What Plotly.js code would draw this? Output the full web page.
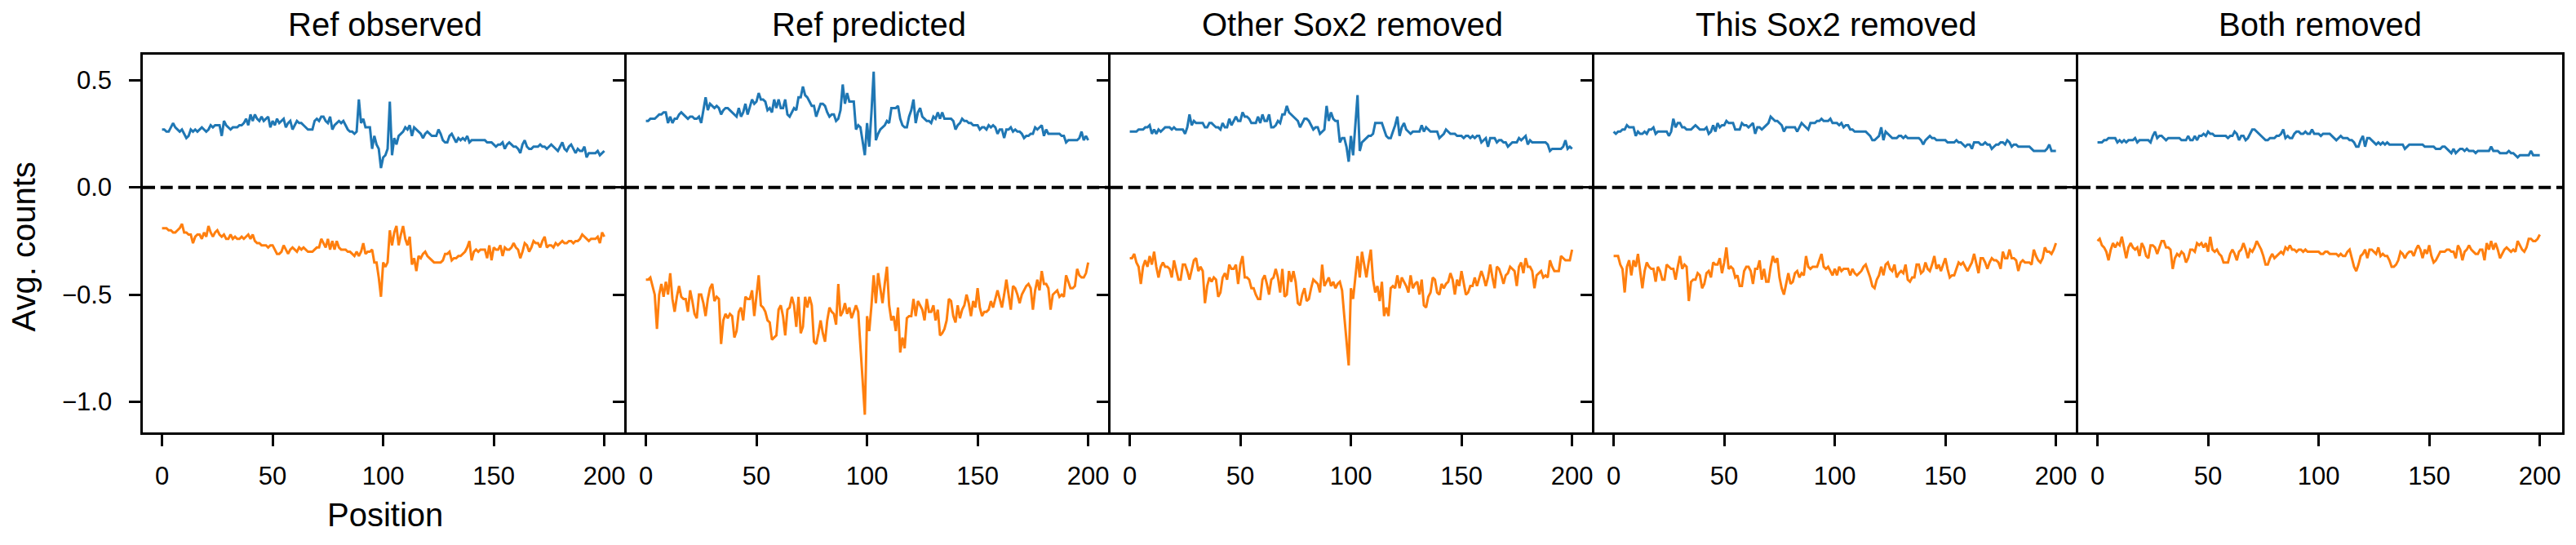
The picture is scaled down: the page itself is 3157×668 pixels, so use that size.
<!DOCTYPE html>
<html><head><meta charset="utf-8">
<script src="https://cdn.plot.ly/plotly-3.0.1.min.js"></script>
<style>html,body{margin:0;padding:0;background:#fff}</style>
</head><body><div id="chart" style="width:3157px;height:668px"></div>
<script>
const panelTitles = ['Ref observed', 'Ref predicted', 'Other Sox2 removed', 'This Sox2 removed', 'Both removed'];
const xAxisTitle = 'Position';
const yAxisTitle = 'Avg. counts';
const xTickVals = [0, 50, 100, 150, 200];
const xTickText = ['0', '50', '100', '150', '200'];
const yTickVals = [-1.0, -0.5, 0.0, 0.5];
const yTickText = ['\u22121.0', '\u22120.5', '0.0', '0.5'];

const refObservedPos = [
0.27,0.27,0.26,0.26,0.28,0.30,0.28,0.27,0.26,0.27,
0.25,0.23,0.24,0.27,0.26,0.27,0.26,0.27,0.28,0.27,
0.26,0.27,0.29,0.28,0.29,0.29,0.29,0.24,0.31,0.29,
0.28,0.27,0.28,0.28,0.28,0.29,0.29,0.30,0.32,0.29,
0.34,0.31,0.34,0.32,0.31,0.33,0.31,0.32,0.33,0.28,
0.31,0.29,0.32,0.30,0.31,0.32,0.28,0.30,0.31,0.27,
0.29,0.31,0.30,0.30,0.29,0.28,0.27,0.27,0.27,0.31,
0.32,0.31,0.33,0.33,0.31,0.30,0.33,0.27,0.29,0.30,
0.31,0.30,0.31,0.29,0.27,0.26,0.26,0.25,0.26,0.41,
0.30,0.32,0.28,0.28,0.28,0.18,0.24,0.20,0.18,0.09,
0.14,0.15,0.18,0.40,0.15,0.23,0.20,0.24,0.25,0.26,
0.28,0.27,0.29,0.24,0.28,0.27,0.26,0.25,0.23,0.25,
0.26,0.25,0.24,0.24,0.24,0.27,0.25,0.22,0.21,0.21,
0.24,0.25,0.23,0.21,0.23,0.22,0.23,0.22,0.24,0.21,
0.22,0.22,0.22,0.22,0.22,0.22,0.22,0.21,0.21,0.21,
0.20,0.19,0.20,0.20,0.21,0.18,0.20,0.21,0.20,0.19,
0.19,0.18,0.16,0.20,0.22,0.19,0.18,0.18,0.19,0.19,
0.19,0.20,0.19,0.19,0.18,0.19,0.20,0.19,0.18,0.17,
0.19,0.21,0.18,0.17,0.19,0.20,0.18,0.16,0.18,0.17,
0.17,0.19,0.14,0.16,0.16,0.16,0.16,0.17,0.15,0.16,
0.17];
const refObservedNeg = [
-0.19,-0.19,-0.19,-0.20,-0.20,-0.21,-0.21,-0.20,-0.19,-0.17,
-0.21,-0.21,-0.22,-0.22,-0.26,-0.23,-0.22,-0.22,-0.24,-0.21,
-0.23,-0.18,-0.21,-0.23,-0.21,-0.20,-0.22,-0.23,-0.22,-0.24,
-0.24,-0.22,-0.24,-0.23,-0.24,-0.24,-0.23,-0.24,-0.23,-0.22,
-0.24,-0.22,-0.25,-0.26,-0.26,-0.27,-0.27,-0.27,-0.28,-0.27,
-0.27,-0.29,-0.31,-0.31,-0.30,-0.27,-0.29,-0.31,-0.29,-0.28,
-0.29,-0.30,-0.28,-0.29,-0.28,-0.29,-0.30,-0.30,-0.30,-0.29,
-0.28,-0.28,-0.24,-0.26,-0.28,-0.24,-0.29,-0.25,-0.29,-0.25,
-0.28,-0.29,-0.29,-0.29,-0.30,-0.30,-0.31,-0.32,-0.30,-0.32,
-0.30,-0.26,-0.31,-0.30,-0.30,-0.29,-0.35,-0.35,-0.42,-0.51,
-0.35,-0.37,-0.35,-0.20,-0.27,-0.21,-0.18,-0.27,-0.22,-0.18,
-0.24,-0.27,-0.23,-0.36,-0.33,-0.39,-0.32,-0.33,-0.31,-0.30,
-0.32,-0.33,-0.34,-0.35,-0.35,-0.35,-0.35,-0.34,-0.31,-0.31,
-0.30,-0.34,-0.33,-0.33,-0.32,-0.32,-0.31,-0.30,-0.28,-0.25,
-0.34,-0.30,-0.29,-0.30,-0.29,-0.29,-0.29,-0.33,-0.27,-0.34,
-0.28,-0.29,-0.29,-0.27,-0.32,-0.28,-0.29,-0.29,-0.28,-0.26,
-0.28,-0.29,-0.33,-0.30,-0.26,-0.27,-0.30,-0.28,-0.25,-0.26,
-0.26,-0.28,-0.25,-0.23,-0.28,-0.27,-0.27,-0.28,-0.26,-0.27,
-0.26,-0.25,-0.26,-0.26,-0.25,-0.25,-0.26,-0.25,-0.25,-0.24,
-0.22,-0.23,-0.24,-0.25,-0.24,-0.24,-0.24,-0.23,-0.26,-0.21,
-0.23];
const refPredictedPos = [
0.31,0.31,0.32,0.32,0.32,0.33,0.34,0.34,0.35,0.35,
0.30,0.33,0.30,0.32,0.32,0.34,0.35,0.34,0.33,0.32,
0.33,0.33,0.32,0.32,0.33,0.30,0.36,0.42,0.36,0.39,
0.38,0.37,0.38,0.37,0.34,0.36,0.37,0.37,0.36,0.35,
0.34,0.33,0.37,0.33,0.35,0.39,0.34,0.38,0.41,0.39,
0.40,0.44,0.41,0.41,0.40,0.36,0.37,0.35,0.41,0.37,
0.41,0.37,0.37,0.41,0.34,0.33,0.35,0.37,0.36,0.42,
0.42,0.47,0.43,0.42,0.40,0.38,0.38,0.33,0.36,0.39,
0.39,0.38,0.35,0.33,0.34,0.34,0.31,0.32,0.36,0.48,
0.39,0.44,0.40,0.40,0.40,0.27,0.29,0.28,0.22,0.15,
0.30,0.19,0.35,0.54,0.22,0.25,0.27,0.28,0.29,0.31,
0.30,0.37,0.37,0.37,0.38,0.32,0.29,0.28,0.28,0.33,
0.36,0.41,0.30,0.35,0.37,0.33,0.32,0.31,0.31,0.30,
0.33,0.32,0.35,0.32,0.35,0.32,0.32,0.32,0.32,0.31,
0.27,0.29,0.30,0.32,0.31,0.31,0.30,0.30,0.29,0.29,
0.29,0.27,0.28,0.28,0.27,0.29,0.28,0.29,0.28,0.25,
0.27,0.27,0.23,0.27,0.27,0.28,0.26,0.27,0.26,0.26,
0.25,0.23,0.24,0.24,0.25,0.25,0.28,0.27,0.28,0.29,
0.24,0.27,0.25,0.25,0.25,0.25,0.25,0.25,0.24,0.24,
0.21,0.22,0.22,0.22,0.22,0.22,0.23,0.26,0.22,0.24,
0.22];
const refPredictedNeg = [
-0.43,-0.43,-0.42,-0.46,-0.50,-0.66,-0.50,-0.45,-0.51,-0.44,
-0.50,-0.40,-0.52,-0.58,-0.51,-0.46,-0.51,-0.52,-0.52,-0.58,
-0.48,-0.53,-0.59,-0.61,-0.50,-0.50,-0.54,-0.60,-0.52,-0.47,
-0.45,-0.53,-0.51,-0.52,-0.73,-0.62,-0.59,-0.61,-0.59,-0.60,
-0.70,-0.67,-0.58,-0.56,-0.62,-0.51,-0.52,-0.52,-0.48,-0.60,
-0.50,-0.41,-0.55,-0.56,-0.58,-0.62,-0.63,-0.71,-0.70,-0.69,
-0.57,-0.55,-0.60,-0.69,-0.57,-0.56,-0.51,-0.55,-0.65,-0.51,
-0.68,-0.65,-0.51,-0.56,-0.51,-0.55,-0.72,-0.73,-0.68,-0.62,
-0.68,-0.72,-0.62,-0.56,-0.58,-0.59,-0.64,-0.45,-0.60,-0.58,
-0.54,-0.59,-0.56,-0.61,-0.58,-0.55,-0.58,-0.75,-0.90,-1.06,
-0.60,-0.67,-0.55,-0.41,-0.54,-0.40,-0.47,-0.54,-0.45,-0.37,
-0.55,-0.62,-0.60,-0.67,-0.56,-0.77,-0.70,-0.75,-0.61,-0.60,
-0.60,-0.52,-0.60,-0.53,-0.55,-0.57,-0.62,-0.52,-0.58,-0.58,
-0.55,-0.62,-0.57,-0.69,-0.68,-0.66,-0.62,-0.52,-0.53,-0.60,
-0.63,-0.55,-0.61,-0.57,-0.55,-0.50,-0.54,-0.60,-0.53,-0.56,
-0.47,-0.56,-0.60,-0.58,-0.58,-0.57,-0.53,-0.56,-0.52,-0.48,
-0.52,-0.56,-0.50,-0.43,-0.50,-0.57,-0.46,-0.47,-0.50,-0.54,
-0.50,-0.48,-0.46,-0.45,-0.47,-0.57,-0.48,-0.43,-0.48,-0.39,
-0.45,-0.45,-0.47,-0.57,-0.50,-0.49,-0.48,-0.51,-0.50,-0.51,
-0.41,-0.44,-0.47,-0.47,-0.46,-0.38,-0.41,-0.42,-0.42,-0.40,
-0.35];
const otherRemovedPos = [
0.26,0.26,0.26,0.26,0.27,0.27,0.27,0.28,0.28,0.29,
0.25,0.27,0.25,0.27,0.26,0.27,0.28,0.28,0.28,0.27,
0.28,0.27,0.27,0.27,0.27,0.25,0.28,0.34,0.29,0.31,
0.30,0.30,0.30,0.30,0.28,0.28,0.30,0.30,0.29,0.28,
0.28,0.27,0.30,0.28,0.28,0.32,0.29,0.31,0.33,0.31,
0.31,0.35,0.33,0.33,0.32,0.30,0.30,0.30,0.33,0.30,
0.34,0.31,0.31,0.34,0.28,0.28,0.29,0.31,0.30,0.34,
0.34,0.38,0.35,0.34,0.33,0.32,0.31,0.28,0.30,0.32,
0.32,0.31,0.29,0.27,0.28,0.28,0.25,0.26,0.27,0.38,
0.31,0.35,0.32,0.31,0.31,0.21,0.23,0.23,0.19,0.12,
0.24,0.15,0.30,0.43,0.17,0.21,0.22,0.23,0.24,0.24,
0.25,0.30,0.30,0.30,0.30,0.27,0.24,0.23,0.23,0.26,
0.29,0.33,0.24,0.28,0.30,0.27,0.26,0.25,0.26,0.26,
0.26,0.26,0.29,0.26,0.28,0.27,0.26,0.26,0.26,0.26,
0.23,0.24,0.25,0.27,0.26,0.25,0.25,0.25,0.24,0.24,
0.24,0.23,0.24,0.24,0.23,0.24,0.23,0.24,0.24,0.21,
0.22,0.23,0.19,0.23,0.23,0.23,0.21,0.22,0.22,0.21,
0.21,0.19,0.20,0.21,0.21,0.21,0.23,0.22,0.23,0.24,
0.20,0.22,0.21,0.21,0.21,0.21,0.21,0.21,0.21,0.20,
0.17,0.18,0.18,0.18,0.18,0.18,0.19,0.22,0.18,0.19,
0.18];
const otherRemovedNeg = [
-0.33,-0.33,-0.31,-0.35,-0.37,-0.45,-0.37,-0.34,-0.37,-0.32,
-0.36,-0.30,-0.37,-0.42,-0.37,-0.35,-0.37,-0.37,-0.38,-0.42,
-0.34,-0.38,-0.43,-0.43,-0.36,-0.36,-0.39,-0.43,-0.38,-0.34,
-0.33,-0.39,-0.37,-0.39,-0.54,-0.46,-0.42,-0.44,-0.42,-0.43,
-0.51,-0.49,-0.42,-0.40,-0.43,-0.36,-0.38,-0.38,-0.36,-0.45,
-0.36,-0.32,-0.42,-0.42,-0.43,-0.47,-0.47,-0.50,-0.52,-0.52,
-0.43,-0.41,-0.45,-0.50,-0.43,-0.42,-0.38,-0.42,-0.49,-0.38,
-0.51,-0.50,-0.39,-0.44,-0.39,-0.44,-0.54,-0.55,-0.50,-0.47,
-0.53,-0.52,-0.47,-0.43,-0.44,-0.45,-0.49,-0.36,-0.46,-0.44,
-0.42,-0.46,-0.44,-0.47,-0.45,-0.44,-0.48,-0.60,-0.72,-0.83,
-0.47,-0.52,-0.42,-0.32,-0.42,-0.30,-0.36,-0.42,-0.35,-0.29,
-0.43,-0.49,-0.46,-0.53,-0.44,-0.60,-0.56,-0.60,-0.47,-0.46,
-0.47,-0.41,-0.47,-0.42,-0.44,-0.46,-0.49,-0.41,-0.47,-0.45,
-0.44,-0.50,-0.43,-0.55,-0.56,-0.51,-0.49,-0.42,-0.43,-0.49,
-0.50,-0.45,-0.47,-0.45,-0.44,-0.40,-0.43,-0.50,-0.43,-0.46,
-0.39,-0.45,-0.50,-0.49,-0.46,-0.46,-0.42,-0.46,-0.42,-0.39,
-0.42,-0.46,-0.42,-0.36,-0.42,-0.47,-0.37,-0.38,-0.41,-0.45,
-0.41,-0.40,-0.37,-0.38,-0.39,-0.46,-0.37,-0.35,-0.40,-0.33,
-0.37,-0.37,-0.39,-0.47,-0.41,-0.40,-0.39,-0.42,-0.41,-0.42,
-0.34,-0.37,-0.39,-0.39,-0.39,-0.32,-0.33,-0.34,-0.34,-0.34,
-0.29];
const thisRemovedPos = [
0.26,0.25,0.26,0.26,0.27,0.27,0.29,0.28,0.28,0.28,
0.24,0.26,0.25,0.25,0.26,0.25,0.27,0.27,0.28,0.25,
0.26,0.26,0.26,0.26,0.26,0.24,0.26,0.32,0.28,0.30,
0.30,0.28,0.28,0.27,0.27,0.27,0.28,0.29,0.28,0.27,
0.27,0.27,0.28,0.25,0.26,0.29,0.26,0.30,0.28,0.29,
0.29,0.31,0.30,0.30,0.30,0.27,0.27,0.27,0.30,0.29,
0.29,0.28,0.29,0.30,0.25,0.28,0.28,0.27,0.28,0.29,
0.30,0.33,0.32,0.31,0.31,0.30,0.29,0.26,0.28,0.28,
0.28,0.28,0.28,0.26,0.28,0.30,0.29,0.28,0.27,0.30,
0.30,0.30,0.31,0.31,0.32,0.31,0.31,0.31,0.32,0.30,
0.30,0.30,0.29,0.30,0.28,0.29,0.29,0.27,0.27,0.26,
0.26,0.26,0.26,0.26,0.26,0.25,0.24,0.22,0.22,0.23,
0.24,0.28,0.22,0.26,0.25,0.24,0.23,0.23,0.23,0.24,
0.24,0.23,0.24,0.23,0.23,0.23,0.23,0.23,0.23,0.22,
0.20,0.22,0.23,0.24,0.23,0.23,0.22,0.22,0.22,0.22,
0.22,0.21,0.21,0.21,0.21,0.22,0.21,0.21,0.20,0.19,
0.20,0.20,0.18,0.21,0.21,0.21,0.20,0.20,0.21,0.20,
0.20,0.18,0.19,0.20,0.20,0.21,0.21,0.20,0.22,0.21,
0.19,0.20,0.20,0.19,0.19,0.19,0.19,0.19,0.19,0.18,
0.17,0.17,0.17,0.17,0.17,0.17,0.18,0.20,0.17,0.17,
0.17];
const thisRemovedNeg = [
-0.32,-0.32,-0.32,-0.36,-0.38,-0.49,-0.37,-0.34,-0.41,-0.34,
-0.37,-0.31,-0.39,-0.47,-0.39,-0.35,-0.37,-0.38,-0.38,-0.44,
-0.37,-0.39,-0.43,-0.43,-0.36,-0.37,-0.38,-0.38,-0.43,-0.37,
-0.32,-0.38,-0.36,-0.37,-0.53,-0.44,-0.43,-0.43,-0.40,-0.41,
-0.47,-0.45,-0.40,-0.39,-0.42,-0.35,-0.36,-0.36,-0.33,-0.40,
-0.35,-0.28,-0.38,-0.37,-0.38,-0.42,-0.41,-0.46,-0.46,-0.39,
-0.37,-0.37,-0.39,-0.45,-0.38,-0.38,-0.34,-0.43,-0.38,-0.44,
-0.44,-0.37,-0.32,-0.35,-0.33,-0.42,-0.47,-0.50,-0.45,-0.40,
-0.45,-0.44,-0.40,-0.39,-0.42,-0.40,-0.41,-0.32,-0.37,-0.38,
-0.37,-0.37,-0.37,-0.34,-0.31,-0.37,-0.38,-0.37,-0.39,-0.41,
-0.38,-0.41,-0.37,-0.39,-0.38,-0.38,-0.38,-0.41,-0.38,-0.40,
-0.41,-0.40,-0.39,-0.37,-0.36,-0.39,-0.42,-0.46,-0.47,-0.43,
-0.41,-0.37,-0.41,-0.36,-0.35,-0.38,-0.39,-0.36,-0.42,-0.40,
-0.39,-0.40,-0.36,-0.43,-0.44,-0.42,-0.42,-0.36,-0.36,-0.40,
-0.39,-0.35,-0.38,-0.39,-0.36,-0.32,-0.38,-0.36,-0.39,-0.36,
-0.33,-0.38,-0.42,-0.41,-0.41,-0.38,-0.35,-0.36,-0.35,-0.37,
-0.39,-0.37,-0.35,-0.31,-0.36,-0.40,-0.33,-0.33,-0.35,-0.38,
-0.35,-0.33,-0.34,-0.34,-0.35,-0.38,-0.30,-0.33,-0.33,-0.29,
-0.33,-0.33,-0.34,-0.39,-0.35,-0.34,-0.35,-0.35,-0.35,-0.36,
-0.29,-0.32,-0.34,-0.35,-0.33,-0.28,-0.30,-0.30,-0.31,-0.29,
-0.26];
const bothRemovedPos = [
0.21,0.21,0.21,0.22,0.22,0.23,0.23,0.23,0.23,0.21,
0.22,0.21,0.22,0.21,0.22,0.22,0.22,0.23,0.21,0.22,
0.22,0.22,0.22,0.22,0.21,0.24,0.26,0.23,0.24,0.24,
0.23,0.22,0.23,0.23,0.23,0.23,0.23,0.23,0.22,0.22,
0.22,0.24,0.22,0.22,0.24,0.22,0.24,0.24,0.25,0.24,
0.26,0.25,0.25,0.24,0.24,0.24,0.24,0.24,0.24,0.23,
0.24,0.24,0.26,0.25,0.22,0.24,0.24,0.22,0.23,0.25,
0.27,0.27,0.26,0.25,0.24,0.23,0.22,0.22,0.23,0.23,
0.23,0.24,0.24,0.25,0.27,0.23,0.24,0.23,0.23,0.25,
0.26,0.26,0.25,0.25,0.26,0.25,0.25,0.27,0.25,0.25,
0.25,0.24,0.25,0.25,0.25,0.25,0.24,0.23,0.22,0.23,
0.24,0.23,0.23,0.23,0.22,0.22,0.21,0.19,0.19,0.22,
0.24,0.19,0.23,0.23,0.22,0.21,0.20,0.21,0.20,0.21,
0.20,0.21,0.20,0.20,0.20,0.20,0.20,0.20,0.20,0.18,
0.19,0.20,0.20,0.20,0.20,0.20,0.20,0.20,0.19,0.19,
0.19,0.19,0.19,0.18,0.18,0.18,0.19,0.19,0.18,0.17,
0.16,0.18,0.16,0.17,0.18,0.18,0.17,0.18,0.17,0.17,
0.17,0.16,0.17,0.17,0.17,0.17,0.17,0.17,0.19,0.17,
0.17,0.17,0.16,0.16,0.16,0.16,0.17,0.16,0.16,0.15,
0.14,0.15,0.15,0.15,0.15,0.15,0.17,0.15,0.15,0.15,
0.15];
const bothRemovedNeg = [
-0.25,-0.24,-0.27,-0.28,-0.30,-0.34,-0.29,-0.26,-0.28,-0.26,
-0.27,-0.23,-0.28,-0.33,-0.28,-0.26,-0.28,-0.29,-0.28,-0.32,
-0.26,-0.28,-0.32,-0.33,-0.27,-0.27,-0.28,-0.31,-0.28,-0.25,
-0.25,-0.28,-0.28,-0.29,-0.38,-0.33,-0.31,-0.32,-0.30,-0.31,
-0.35,-0.33,-0.29,-0.29,-0.30,-0.26,-0.27,-0.26,-0.28,-0.26,
-0.30,-0.23,-0.29,-0.30,-0.29,-0.31,-0.32,-0.35,-0.35,-0.35,
-0.31,-0.29,-0.31,-0.34,-0.30,-0.29,-0.26,-0.29,-0.33,-0.29,
-0.30,-0.28,-0.25,-0.27,-0.29,-0.32,-0.36,-0.36,-0.33,-0.31,
-0.33,-0.32,-0.31,-0.30,-0.31,-0.28,-0.29,-0.27,-0.29,-0.29,
-0.30,-0.29,-0.29,-0.30,-0.29,-0.30,-0.30,-0.30,-0.30,-0.30,
-0.30,-0.31,-0.31,-0.30,-0.30,-0.31,-0.31,-0.31,-0.31,-0.32,
-0.31,-0.32,-0.32,-0.30,-0.29,-0.33,-0.37,-0.39,-0.36,-0.32,
-0.31,-0.29,-0.33,-0.29,-0.29,-0.30,-0.31,-0.28,-0.32,-0.31,
-0.32,-0.32,-0.34,-0.37,-0.37,-0.36,-0.34,-0.30,-0.31,-0.33,
-0.31,-0.30,-0.30,-0.32,-0.29,-0.27,-0.29,-0.33,-0.29,-0.31,
-0.27,-0.32,-0.35,-0.34,-0.32,-0.30,-0.30,-0.30,-0.29,-0.29,
-0.30,-0.30,-0.33,-0.27,-0.29,-0.34,-0.30,-0.29,-0.27,-0.29,
-0.30,-0.31,-0.31,-0.29,-0.29,-0.34,-0.26,-0.29,-0.25,-0.29,
-0.26,-0.29,-0.33,-0.31,-0.29,-0.28,-0.29,-0.30,-0.29,-0.30,
-0.25,-0.27,-0.29,-0.30,-0.28,-0.24,-0.24,-0.25,-0.25,-0.24,
-0.22];

const posSeries = [refObservedPos, refPredictedPos, otherRemovedPos, thisRemovedPos, bothRemovedPos];
const negSeries = [refObservedNeg, refPredictedNeg, otherRemovedNeg, thisRemovedNeg, bothRemovedNeg];

const FONT = 'Liberation Sans, Arial, Helvetica, sans-serif';
const N = panelTitles.length;
const traces = [];
const layout = {
  width: 3157, height: 668,
  margin: {l: 175, r: 17, t: 67, b: 138, pad: 0},
  paper_bgcolor: '#ffffff', plot_bgcolor: '#ffffff',
  showlegend: false,
  font: {family: FONT, color: '#000000'},
  shapes: [], annotations: []
};

for (let i = 0; i < N; i++) {
  const sfx = i === 0 ? '' : String(i + 1);
  const positions = posSeries[i].map((_, k) => k);
  traces.push({x: positions, y: posSeries[i], type: 'scatter', mode: 'lines',
    xaxis: 'x' + sfx, yaxis: 'y' + sfx, line: {color: '#1f77b4', width: 3}, hoverinfo: 'skip'});
  traces.push({x: positions, y: negSeries[i], type: 'scatter', mode: 'lines',
    xaxis: 'x' + sfx, yaxis: 'y' + sfx, line: {color: '#ff7f0e', width: 3}, hoverinfo: 'skip'});

  layout['xaxis' + sfx] = {
    domain: [i / N, (i + 1) / N], range: [-8.7, 210.1], anchor: 'y' + sfx,
    tickmode: 'array', tickvals: xTickVals, ticktext: xTickText,
    ticks: 'outside', ticklen: 14, tickwidth: 3, tickcolor: '#000',
    showline: true, mirror: true, linewidth: 3, linecolor: '#000',
    showgrid: false, zeroline: false, automargin: false,
    tickfont: {family: FONT, size: 31, color: '#000'}, ticklabelstandoff: 10
  };

  layout['yaxis' + sfx] = {
    domain: [0, 1], range: [-1.1425, 0.619], anchor: 'x' + sfx,
    tickmode: 'array', tickvals: yTickVals, ticktext: yTickText,
    ticks: 'outside', ticklen: 14, tickwidth: 3, tickcolor: '#000',
    showline: true, mirror: i === N - 1, linewidth: 3, linecolor: '#000',
    showgrid: false, zeroline: false, automargin: false,
    showticklabels: false
  };

  layout.shapes.push({type: 'line', xref: 'x' + sfx + ' domain', x0: 0, x1: 1,
    yref: 'y' + sfx, y0: 0, y1: 0, layer: 'above',
    line: {color: '#000', width: 4, dash: '15px,6.7px'}});

  layout.annotations.push({text: panelTitles[i], xref: 'x' + sfx + ' domain', x: 0.5,
    yref: 'paper', y: 1, yanchor: 'middle', yshift: 37, showarrow: false,
    font: {family: FONT, size: 40, color: '#000'}});
}

// y tick labels of the shared axis, placed against the first panel's ticks
yTickVals.forEach((v, k) => {
  layout.annotations.push({text: yTickText[k], xref: 'x domain', x: 0, xanchor: 'right', xshift: -37,
    yref: 'y', y: v, yanchor: 'middle', showarrow: false, borderpad: 0,
    font: {family: FONT, size: 31, color: '#000'}});
});
// axis titles
layout.annotations.push({text: xAxisTitle, xref: 'x domain', x: 0.5, xanchor: 'center',
  yref: 'paper', y: 0, yanchor: 'middle', yshift: -101, showarrow: false,
  font: {family: FONT, size: 40, color: '#000'}});
layout.annotations.push({text: yAxisTitle, xref: 'paper', x: 0, xanchor: 'center', xshift: -147,
  yref: 'paper', y: 0.5, yanchor: 'middle', yshift: -4, textangle: -90, showarrow: false,
  font: {family: FONT, size: 40, color: '#000'}});

Plotly.newPlot('chart', traces, layout, {staticPlot: true, displayModeBar: false});
</script>
</body></html>
